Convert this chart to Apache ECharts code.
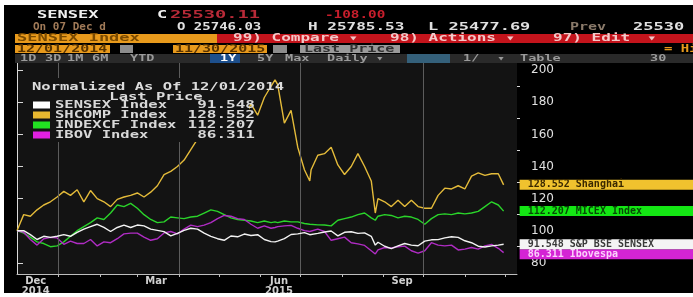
<!DOCTYPE html>
<html><head><meta charset="utf-8">
<script src="https://cdn.jsdelivr.net/npm/echarts@6/dist/echarts.min.js"></script>
<style>
html,body{margin:0;padding:0;background:#fff;width:693px;height:297px;overflow:hidden}
#c{position:absolute;left:4px;top:5px;width:689px;height:288px;background:#000}
</style></head><body><div id="c"></div>
<script>
const dates = ['2014-12-01','2014-12-06','2014-12-11','2014-12-16','2014-12-21','2014-12-26','2014-12-31',
'2015-01-05','2015-01-10','2015-01-15','2015-01-20','2015-01-25','2015-01-30',
'2015-02-04','2015-02-09','2015-02-14','2015-02-19','2015-02-24',
'2015-03-01','2015-03-06','2015-03-11','2015-03-16','2015-03-21','2015-03-26','2015-03-31',
'2015-04-05','2015-04-10','2015-04-15','2015-04-20','2015-04-25','2015-04-30',
'2015-05-05','2015-05-10','2015-05-15','2015-05-20','2015-05-25','2015-05-30',
'2015-06-04','2015-06-09','2015-06-12','2015-06-14','2015-06-19','2015-06-24','2015-06-29',
'2015-07-04','2015-07-08','2015-07-09','2015-07-14','2015-07-19','2015-07-24','2015-07-29',
'2015-08-03','2015-08-08','2015-08-13','2015-08-18','2015-08-23','2015-08-26','2015-08-28',
'2015-09-02','2015-09-07','2015-09-12','2015-09-17','2015-09-22','2015-09-27',
'2015-10-02','2015-10-07','2015-10-12','2015-10-17','2015-10-22','2015-10-27',
'2015-11-01','2015-11-06','2015-11-11','2015-11-16','2015-11-21','2015-11-26','2015-11-30'];

const seriesNames = ['SENSEX Index','SHCOMP Index','INDEXCF Index','IBOV Index'];
const tagNames = ['S&P BSE SENSEX','Shanghai','MICEX Index','Ibovespa'];

const sensex = [100,100,97.5,94.5,96.5,95.8,96.5,
97.5,96.5,99,101,102.5,104,
102,99.5,102,103.5,102,
103.5,103,101,100.2,99.4,96.8,98.3,
100.2,101.5,101,98.5,96.5,95,
94,96.7,96.2,97.9,97,97.5,
94.5,93.2,93,93.5,95,97.6,98,
98.8,97.5,97,98.3,99.2,99.8,96.8,
99,99.3,98.3,98.6,96.5,91,92.8,
90.3,88.8,90.5,92,91,90.6,
93.5,94.3,94.4,95.5,96.2,95.8,
93.7,92.5,90.3,89.8,90.5,91,91.548];

const shcomp = [100,110,109,113,116,118,121,
124.5,122,125.5,118,125,120,
118,115,119.5,121,122,
123.5,121,124,128,135,137,140,
144,150.5,157,158,164,166,
158,157,161,170,179,172,
183,190,194,191,167,175,152,
138,131,138,147,148,152,141,
135,140,148,140,131,111,120,
118,115,119,115,119,115,
114,114,122,126.5,126,128,
126,134,136,134.5,135.5,135.5,128.552];

const indexcf = [100,98.5,96,93,92,90,90.5,
93,96.5,100,102.5,105,108,
107,111,116,115,117,
114,110,107,105,105.5,108.5,108,
107.5,108.5,109,111,113,112,
110,108,107,106.5,106,105,
106,105,105.5,105,106,105.5,105.5,
104.5,104,104,103.6,103.5,103,106.5,
107.5,108.5,110,111,108,106.5,109,
110,109.5,108,109,108.5,107,
104,107.5,110,110.5,110,111,
110.5,111,112,115,118,116,112.207];

const ibov = [100,99,94.5,91,95,95.8,95.5,
91.5,93.5,92,92,94.5,90.5,
93,92.5,95,98,98.5,
98.5,96,94,95,98.6,99.5,98,
101,103.5,102.5,103.5,105,107.5,
109.5,109,107.5,107,104,101.5,
103,101.5,102,102.5,103,103.3,101.5,
100,99.5,100,101,99.5,94,95,
96,92.5,91.8,90.8,87.5,85.5,88,
89.5,89.2,90,90.4,87.5,86,
87.5,92.5,91,90.5,91,88,
88.5,89.5,88.5,90.5,91.5,89,86.311];

const yTicks = [80,100,120,140,160,180,200];
const yMinor = [90,110,130,150,170,190];
const xLabelDates = ['2014-12-15','2015-03-15','2015-06-15','2015-09-15'];
const xLabels = ['Dec\n2014','Mar','Jun\n2015','Sep'];
const monthStarts = ['2015-01-01','2015-02-01','2015-03-01','2015-04-01','2015-05-01','2015-06-01','2015-07-01','2015-08-01','2015-09-01','2015-10-01','2015-11-01','2015-12-01'];
const quarterLines = ['2015-01-01','2015-04-01','2015-07-01','2015-10-01'];

const base = Date.parse('2014-12-01T00:00:00Z');
const day = d => Math.round((Date.parse(d + 'T00:00:00Z') - base) / 864e5);
const xs = dates.map(day);
const labelXs = xLabelDates.map(day);
const all = [sensex, shcomp, indexcf, ibov];
const lineColors = ['#f2f2f2', '#e4bb3a', '#2ad42a', '#b02cc4'];
const legendColors = ['#ffffff', '#e8b830', '#22e022', '#e020e0'];
const tagBg = ['#f4f4f4', '#f0c22e', '#14e614', '#d424d4'];
const tagFg = ['#3a3a3a', '#3a2800', '#064a06', '#fbd0fb'];

const MONO = '"DejaVu Sans Mono", monospace';
function T(text, x, y, fill, opt) {
  opt = opt || {};
  return {type: 'text', x: x, y: y, scaleX: opt.sx || 1.55, z: 100,
    style: {text: text, fill: fill, font: (opt.font || 'bold 10px ' + MONO),
      textAlign: opt.align || 'left', align: opt.align || 'left',
      textVerticalAlign: 'middle', verticalAlign: 'middle'}};
}
function R(x, y, w, h, fill, z) {
  return {type: 'rect', z: z || 99, shape: {x: x, y: y, width: w, height: h}, style: {fill: fill}};
}

const graphics = [];
// Row 1
graphics.push(T('SENSEX', 33, 10, '#f0f0f0', {font: 'bold 11px ' + MONO, sx: 1.55}));
graphics.push(T('C', 153, 10, '#f0f0f0', {font: 'bold 11px ' + MONO}));
graphics.push(T('25530.11', 166, 10, '#b82a38', {font: 'bold 11px ' + MONO, sx: 1.7}));
graphics.push(T('-108.00', 321, 10, '#c81e2c', {font: 'bold 11px ' + MONO, sx: 1.3}));
// Row 2
graphics.push(T('On 07 Dec d', 29, 22, '#a07a58', {sx: 1.1}));
graphics.push(T('O 25746.03', 173, 22, '#e0e0e0', {sx: 1.4}));
graphics.push(T('H 25785.53', 304, 22, '#e0e0e0', {sx: 1.6}));
graphics.push(T('L 25477.69', 424, 22, '#e0e0e0', {sx: 1.7}));
graphics.push(T('Prev', 566, 22, '#8a7a6a', {sx: 1.5}));
graphics.push(T('25530', 629, 22, '#e0e0e0', {sx: 1.7}));
// Row 3
graphics.push(R(11, 29, 202, 9, '#e89a1c'));
graphics.push(T('SENSEX Index', 13, 33.5, '#7a4a00', {sx: 1.7}));
graphics.push(R(213, 29, 476, 9, '#c4141c'));
graphics.push(T('99) Compare \u25BE', 229, 33.5, '#f2c8c8', {sx: 1.6}));
graphics.push(T('98) Actions \u25BE', 386, 33.5, '#f2c8c8', {sx: 1.6}));
graphics.push(T('97) Edit', 549, 33.5, '#f2c8c8', {sx: 1.6}));
graphics.push(T('\u25BE', 643, 33.5, '#f2c8c8', {sx: 1.6}));
// Row 4
graphics.push(R(11, 40, 95, 8, '#e89a1c'));
graphics.push(T('12/01/2014', 13, 44, '#5a3400', {sx: 1.5}));
graphics.push(R(116, 40, 13, 8, '#8c8c8c'));
graphics.push(R(169, 40, 94, 8, '#e89a1c'));
graphics.push(T('11/30/2015', 171, 44, '#5a3400', {sx: 1.5}));
graphics.push(R(269, 40, 14, 8, '#8c8c8c'));
graphics.push(R(296, 40, 100, 8, '#9a9a9a'));
graphics.push(T('Last Price', 300, 44, '#303030', {sx: 1.5}));
graphics.push(T('= Hi', 660, 44, '#e89a1c', {sx: 1.4}));
// Row 5
graphics.push(R(11, 49, 678, 9, '#2a2a2a'));
[['1D',16],['3D',41],['1M',63],['6M',88],['YTD',126],['5Y',253],['Max',281],['Daily \u25BE',323],['1/',459],['\u25BE',493],['Table',516],['30',646]]
  .forEach(a => graphics.push(T(a[0], a[1], 53.5, '#9a9a9a', {font: 'bold 9px ' + MONO, sx: 1.5})));
graphics.push(R(206, 49, 30, 9, '#1d4f8c'));
graphics.push(T('1Y', 216, 53.5, '#ffffff', {font: 'bold 9px ' + MONO, sx: 1.5}));
graphics.push(R(403, 49, 43, 9, '#34607a'));
// Legend block (opaque panel hides lines behind it)
graphics.push(R(21, 73, 224, 64, '#131313', 90));
graphics.push(T('Normalized As Of 12/01/2014', 154, 82, '#dcdcdc', {align: 'center', sx: 1.55}));
graphics.push(T('Last Price', 152, 92.5, '#dcdcdc', {align: 'center', sx: 1.55}));
seriesNames.forEach((n, i) => {
  const yy = 100 + i * 10;
  graphics.push(R(29, yy - 3.5, 17, 7, legendColors[i]));
  graphics.push(T(n, 51, yy, '#d8d8d8', {sx: 1.55}));
  graphics.push(T(all[i][all[i].length - 1].toFixed(3), 251, yy, '#d8d8d8', {align: 'right', sx: 1.6}));
});

const drawOrder = [1, 2, 3, 0];
const series = drawOrder.map((i, k) => ({
  name: seriesNames[i], type: 'line', showSymbol: false, symbol: 'none',
  data: all[i].map((v, j) => [xs[j], v]),
  lineStyle: {color: lineColors[i], width: 1.4},
  itemStyle: {color: lineColors[i]},
  z: 2 + k,
  endLabel: {
    show: true, distance: 16,
    formatter: () => all[i][all[i].length - 1].toFixed(3) + ' ' + tagNames[i],
    backgroundColor: tagBg[i], color: tagFg[i],
    fontFamily: MONO, fontWeight: 'bold', fontSize: 10, lineHeight: 10,
    padding: [0, 4, 0, 8], width: 180, overflow: 'truncate', ellipsis: ''
  },
  labelLayout: {moveOverlap: 'shiftY'},
  markLine: k === 0 ? {
    silent: true, symbol: 'none', animation: false, label: {show: false},
    lineStyle: {color: '#5c5c5c', type: 'solid', width: 1},
    data: quarterLines.map(d => ({xAxis: day(d)}))
  } : undefined
}));

const chart = echarts.init(document.getElementById('c'), null, {renderer: 'canvas'});
chart.setOption({
  animation: false,
  backgroundColor: '#000',
  grid: {left: 13, right: 176, top: 58, bottom: 19, show: true, backgroundColor: '#131313', borderWidth: 0, containLabel: false, outerBoundsMode: 'none'},
  xAxis: {
    type: 'value', min: 0, max: 374,
    axisLine: {show: true, onZero: false, lineStyle: {color: '#bdbdbd'}},
    axisTick: {show: true, customValues: monthStarts.map(day), length: 3, lineStyle: {color: '#bdbdbd'}},
    axisLabel: {customValues: labelXs, formatter: v => { const k = labelXs.indexOf(Math.round(v)); return k >= 0 ? xLabels[k] : ''; },
      color: '#d0d0d0', fontSize: 10, lineHeight: 10, margin: 2, fontFamily: 'DejaVu Sans', fontWeight: 'bold'},
    splitLine: {show: false}
  },
  yAxis: [{
    type: 'value', position: 'right', min: 73, max: 204.5,
    axisLine: {show: true, lineStyle: {color: '#d8d8d8'}},
    axisTick: {show: true, customValues: yTicks, length: 6, lineStyle: {color: '#d8d8d8'}},
    axisLabel: {customValues: yTicks, color: '#e0e0e0', fontSize: 12, fontFamily: 'DejaVu Sans', margin: 14},
    splitLine: {show: false}
  }, {
    type: 'value', position: 'right', min: 73, max: 204.5,
    axisLine: {show: false},
    axisTick: {show: true, customValues: yMinor, length: 3, lineStyle: {color: '#d8d8d8'}},
    axisLabel: {show: false}, splitLine: {show: false}
  }],
  series: series,
  graphic: graphics
});
</script></body></html>
